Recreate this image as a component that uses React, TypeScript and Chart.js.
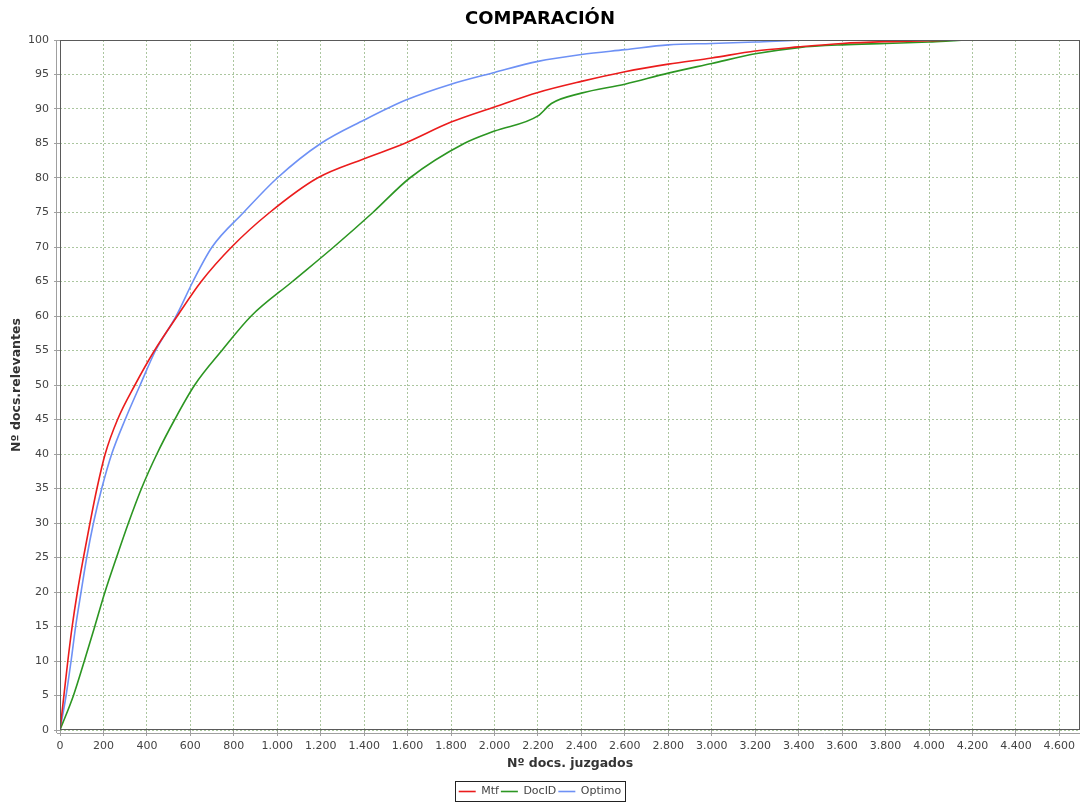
import React, { useEffect, useRef } from "react";
import { Chart, registerables } from "chart.js";

Chart.register(...registerables);

const TITLE = "COMPARACIÓN";
const X_TITLE = "Nº docs. juzgados";
const Y_TITLE = "Nº docs.relevantes";
const SERIES_NAMES = ["Mtf", "DocID", "Optimo"];
const SERIES_COLORS = ["rgb(235,28,28)", "rgb(44,150,34)", "rgb(110,145,245)"];

const X_MIN = 0;
const X_MAX = 4695;
const X_STEP = 200;
const Y_MIN = 0;
const Y_MAX = 100;
const Y_STEP = 5;

const mtfX = [0, 18, 36, 56, 80, 108, 138, 170, 208, 265, 345, 435, 540, 650, 790, 965, 1185, 1400, 1585, 1800, 2000, 2200, 2400, 2600, 2800, 3000, 3200, 3400, 3600, 3800, 4000, 4200, 4475];
const mtfY = [0, 5, 10, 15, 20, 25, 30, 35, 40, 45, 50, 55, 60, 65, 70, 75, 80, 82.8, 85, 88.1, 90.3, 92.4, 94.0, 95.4, 96.5, 97.4, 98.4, 99.0, 99.5, 99.76, 99.9, 100, 100];

const docX = [0, 62, 112, 160, 207, 260, 315, 375, 446, 528, 620, 745, 880, 1070, 1260, 1440, 1610, 1860, 2000, 2200, 2262, 2400, 2600, 2800, 3000, 3200, 3400, 3600, 3800, 4000, 4200, 4475];
const docY = [0, 5, 10, 15, 20, 25, 30, 35, 40, 45, 50, 55, 60, 65, 70, 75, 80, 85, 86.8, 89.0, 90.8, 92.3, 93.6, 95.2, 96.6, 98.0, 98.9, 99.3, 99.5, 99.7, 100, 100];

const optX = [0, 28, 51, 72, 97, 123, 154, 192, 238, 300, 369, 440, 535, 612, 700, 845, 1000, 1200, 1400, 1592, 1800, 2000, 2200, 2400, 2600, 2800, 3000, 3200, 3467, 4475];
const optY = [0, 5, 10, 15, 20, 25, 30, 35, 40, 45, 50, 55, 60, 65, 70, 75, 80, 85, 88.4, 91.3, 93.6, 95.3, 96.9, 97.9, 98.6, 99.3, 99.5, 99.7, 100, 100];

const seriesX = [mtfX, docX, optX];
const seriesY = [mtfY, docY, optY];

const FONT = "'DejaVu Sans', Tahoma, sans-serif";

function fmt(v: number): string {
  return Math.round(v).toString().replace(/\B(?=(\d{3})+(?!\d))/g, ".");
}

const framePlugin = {
  id: "frame",
  afterDatasetsDraw(chart: any) {
    const { ctx, chartArea: a } = chart;
    ctx.save();
    ctx.strokeStyle = "#5a5a5a";
    ctx.lineWidth = 1;
    ctx.setLineDash([]);
    ctx.strokeRect(a.left + 0.5, a.top + 0.5, a.right - a.left - 1, a.bottom - a.top - 1);
    ctx.strokeStyle = "#a0a0a0";
    ctx.beginPath();
    ctx.moveTo(a.left - 3.5, a.top);
    ctx.lineTo(a.left - 3.5, a.bottom + 3);
    ctx.moveTo(a.left - 3, a.bottom + 3.5);
    ctx.lineTo(a.right, a.bottom + 3.5);
    ctx.stroke();
    ctx.restore();
  },
  afterDraw(chart: any) {
    const lg = chart.legend;
    if (!lg || !lg.legendHitBoxes || !lg.legendHitBoxes.length) return;
    const hb = lg.legendHitBoxes;
    let l = Infinity, r = -Infinity, t = Infinity, b = -Infinity;
    hb.forEach((h: any) => {
      l = Math.min(l, h.left);
      r = Math.max(r, h.left + h.width);
      t = Math.min(t, h.top);
      b = Math.max(b, h.top + h.height);
    });
    const ctx = chart.ctx;
    ctx.save();
    ctx.strokeStyle = "#222";
    ctx.lineWidth = 1;
    ctx.strokeRect(Math.round(l - 4) + 0.5, Math.round(t - 5) + 0.5, Math.round(r - l + 7), Math.round(b - t + 9));
    ctx.restore();
  },
};

export default function App() {
  const ref = useRef<HTMLCanvasElement | null>(null);
  useEffect(() => {
    if (!ref.current) return;
    const datasets = SERIES_NAMES.map((name, i) => ({
      label: name,
      data: seriesX[i].map((x, j) => ({ x, y: seriesY[i][j] })),
      borderColor: SERIES_COLORS[i],
      backgroundColor: SERIES_COLORS[i],
      borderWidth: 1.6,
      pointRadius: 0,
      cubicInterpolationMode: "monotone" as const,
      fill: false,
    }));
    const gridColor = "rgba(115,160,95,0.6)";
    const chart = new Chart(ref.current, {
      type: "line",
      data: { datasets },
      plugins: [framePlugin],
      options: {
        animation: false,
        responsive: false,
        devicePixelRatio: 1,
        layout: { padding: { left: 0, right: 2, top: 0, bottom: -4 } },
        plugins: {
          title: {
            display: true,
            text: TITLE,
            color: "#000",
            font: { family: FONT, size: 18, weight: "bold" },
            padding: { top: 9, bottom: 9.4 },
          },
          legend: {
            display: true,
            position: "bottom",
            labels: {
              color: "#444",
              font: { family: FONT, size: 11 },
              usePointStyle: true,
              pointStyle: "line",
              pointStyleWidth: 17,
              boxHeight: 11,
              padding: 2,
            },
          },
          tooltip: { enabled: false },
        },
        scales: {
          x: {
            type: "linear",
            min: X_MIN,
            max: X_MAX,
            afterFit: (s: any) => { s.height = 54; },
            ticks: {
              stepSize: X_STEP,
              includeBounds: false,
              color: "#444",
              font: { family: FONT, size: 11 },
              padding: 4,
              maxRotation: 0,
              autoSkip: false,
              callback: (v: any) => fmt(Number(v)),
            },
            grid: { color: gridColor, lineWidth: 1, tickLength: 6, tickColor: "#a0a0a0", tickWidth: 1 },
            border: { display: false, dash: [2, 2] },
            title: {
              display: true,
              text: X_TITLE,
              color: "#333",
              font: { family: FONT, size: 12.5, weight: "bold" },
              padding: { top: 4, bottom: 13 },
            },
          },
          y: {
            type: "linear",
            min: Y_MIN,
            max: Y_MAX,
            afterFit: (s: any) => { s.width = 60; },
            ticks: {
              stepSize: Y_STEP,
              color: "#444",
              font: { family: FONT, size: 11 },
              padding: 5,
              autoSkip: false,
              callback: (v: any) => fmt(Number(v)),
            },
            grid: { color: gridColor, lineWidth: 1, tickLength: 6, tickColor: "#a0a0a0", tickWidth: 1 },
            border: { display: false, dash: [2, 2] },
            title: {
              display: true,
              text: Y_TITLE,
              color: "#333",
              font: { family: FONT, size: 12.5, weight: "bold" },
              padding: { top: 9, bottom: 0 },
            },
          },
        },
      },
    });
    return () => chart.destroy();
  }, []);
  return (
    <div style={{ position: "fixed", left: 0, top: 0, width: 1082, height: 803, background: "#fff", overflow: "hidden" }}>
      <canvas ref={ref} width={1082} height={803} style={{ display: "block" }} />
    </div>
  );
}
